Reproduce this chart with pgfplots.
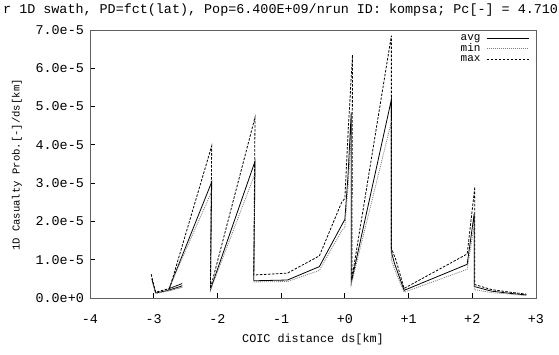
\documentclass[border=0pt]{standalone}
\usepackage{pgfplots}
\pgfplotsset{compat=1.18}
\usepackage{fontspec}
\setmainfont{Liberation Mono}
\begin{document}
\begin{tikzpicture}
\useasboundingbox (0pt,0pt) rectangle (559pt,354pt);
\node[anchor=west, font=\fontsize{13.4}{14}\selectfont, inner sep=0pt] at (3pt,344pt) {r 1D swath, PD=fct(lat), Pop=6.400E+09/nrun ID: kompsa; Pc[-] = 4.710};
\begin{axis}[
  at={(90pt,56pt)}, anchor=south west, scale only axis,
  width=446pt, height=268pt,
  xmin=-4, xmax=3, ymin=0, ymax=7e-5,
  xtick={-4,-3,-2,-1,0,1,2,3},
  xticklabels={-4,-3,-2,-1,+0,+1,+2,+3},
  ytick={0,1e-5,2e-5,3e-5,4e-5,5e-5,6e-5,7e-5},
  yticklabels={0.0e+0,1.0e-5,2.0e-5,3.0e-5,4.0e-5,5.0e-5,6.0e-5,7.0e-5},
  scaled y ticks=false,
  tick pos=left, tick align=inside, major tick length=5pt,
  axis line style={draw=gray!75!black, line width=0.9pt},
  tick style={draw=black, line width=0.8pt},
  ticklabel style={font=\fontsize{13.4}{14}\selectfont},
  x tick label style={yshift=-13pt},
  y tick label style={xshift=-2.6pt},
  xlabel={COIC distance ds[km]},
  xlabel style={font=\fontsize{11.8}{12}\selectfont, at={(axis description cs:0.5,-0.153)}, anchor=center},
  ylabel={1D Casualty Prob.[-]/ds[km]},
  ylabel style={font=\fontsize{10.6}{11}\selectfont, at={(axis description cs:-0.1637,0.496)}, anchor=center, rotate=0},
  legend plot pos=right,
  legend style={at={(axis description cs:0.985,0.99)}, anchor=north east, draw=none, fill=none,
    inner sep=0pt, font=\fontsize{11}{11}\selectfont, column sep=5pt,
    nodes={inner sep=0.8pt, text height=7pt, text depth=2pt}},
  legend image code/.code={\draw[#1] (0pt,0pt) -- (42pt,0pt);},
  clip=false,
]
\addplot[black, line width=0.8pt] coordinates {
(-3.03,0.50e-5) (-2.97,0.13e-5) (-2.77,0.20e-5) (-2.55,0.32e-5) (-2.77,0.20e-5)
(-2.09,3.03e-5) (-2.11,0.22e-5) (-1.41,3.57e-5) (-1.43,0.45e-5) (-0.90,0.47e-5)
(-0.40,0.82e-5) (-0.05,1.90e-5) (0.00,2.05e-5) (0.05,3.20e-5) (0.10,4.85e-5)
(0.10,0.40e-5) (0.73,5.18e-5) (0.73,1.20e-5) (0.78,0.90e-5) (0.93,0.20e-5)
(1.92,0.88e-5) (2.03,2.20e-5) (2.03,0.30e-5) (2.30,0.18e-5) (2.60,0.12e-5) (2.85,0.08e-5)
};
\addlegendentry{avg}
\addplot[gray, line width=0.8pt, dash pattern=on 1pt off 1pt] coordinates {
(-3.02,0.40e-5) (-2.96,0.12e-5) (-2.78,0.18e-5) (-2.55,0.28e-5) (-2.78,0.18e-5)
(-2.10,2.75e-5) (-2.11,0.20e-5) (-1.41,3.25e-5) (-1.43,0.42e-5) (-0.90,0.43e-5)
(-0.40,0.72e-5) (-0.05,1.75e-5) (0.00,1.85e-5) (0.05,2.90e-5) (0.10,4.30e-5)
(0.10,0.35e-5) (0.73,4.60e-5) (0.73,1.00e-5) (0.78,0.75e-5) (0.93,0.15e-5)
(1.92,0.75e-5) (2.03,1.90e-5) (2.03,0.22e-5) (2.30,0.14e-5) (2.60,0.10e-5) (2.85,0.06e-5)
};
\addlegendentry{min}
\addplot[black, line width=0.8pt, dash pattern=on 2.5pt off 1.5pt] coordinates {
(-3.04,0.62e-5) (-2.97,0.15e-5) (-2.75,0.25e-5) (-2.55,0.38e-5) (-2.75,0.25e-5)
(-2.09,3.97e-5) (-2.11,0.25e-5) (-1.41,4.72e-5) (-1.43,0.60e-5) (-0.90,0.65e-5)
(-0.40,1.10e-5) (-0.05,2.50e-5) (0.00,2.60e-5) (0.05,4.30e-5) (0.12,6.35e-5)
(0.11,0.50e-5) (0.73,6.85e-5) (0.73,1.30e-5) (0.80,1.00e-5) (0.93,0.25e-5)
(1.92,1.15e-5) (2.04,2.90e-5) (2.04,0.35e-5) (2.30,0.22e-5) (2.60,0.15e-5) (2.85,0.10e-5)
};
\addlegendentry{max}
\end{axis}
\end{tikzpicture}
\end{document}
